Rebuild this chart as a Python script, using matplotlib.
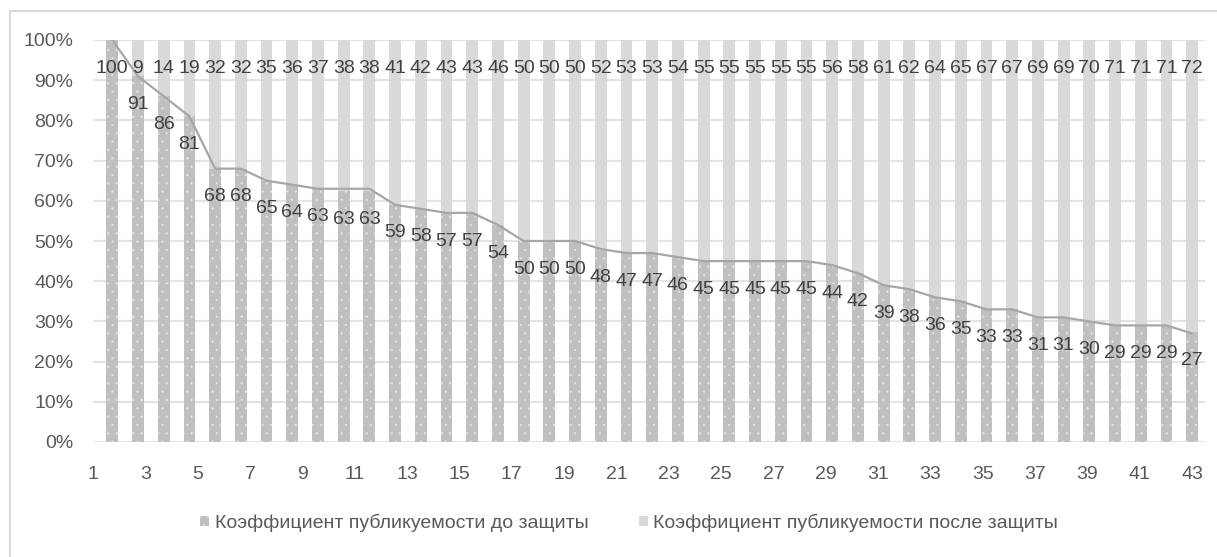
import numpy as np
import matplotlib.pyplot as plt
from matplotlib.patches import Rectangle

# publication ratio (%) per person, before and after the thesis defence
before = [100, 91, 86, 81, 68, 68, 65, 64, 63, 63, 63, 59, 58, 57, 57, 54, 50, 50, 50, 48, 47, 47,
          46, 45, 45, 45, 45, 45, 44, 42, 39, 38, 36, 35, 33, 33, 31, 31, 30, 29, 29, 29, 27]
after = [0, 9, 14, 19, 32, 32, 35, 36, 37, 38, 38, 41, 42, 43, 43, 46, 50, 50, 50, 52, 53, 53,
         54, 55, 55, 55, 55, 55, 56, 58, 61, 62, 64, 65, 67, 67, 69, 69, 70, 71, 71, 71, 72]
categories = [str(i) for i in range(1, 44)]
yticks = [0, 10, 20, 30, 40, 50, 60, 70, 80, 90, 100]

label_before = "Коэффициент публикуемости до защиты"
label_after = "Коэффициент публикуемости после защиты"

plt.rcParams['font.family'] = ['Liberation Sans', 'DejaVu Sans']
plt.rcParams['hatch.linewidth'] = 0.4

fig = plt.figure(figsize=(12.17, 5.57), dpi=100)
ax = fig.add_axes([93 / 1217, 1 - 442 / 557, 1112 / 1217, 402 / 557])

# 100% stacked: each column scaled to its own total
total = np.array(before) + np.array(after)
share_before = np.array(before) / total * 100
share_after = np.array(after) / total * 100

x = np.arange(len(categories))
b1 = ax.bar(x, share_before, width=0.46, color="#bfbfbf", edgecolor="#e4e4e4", linewidth=0,
            hatch="..", label=label_before, zorder=2)
b2 = ax.bar(x, share_after, width=0.46, bottom=share_before, color="#d9d9d9", linewidth=0,
            label=label_after, zorder=2)
ax.plot(x, before, color="#a6a6a6", linewidth=1.6, zorder=3)

# data labels, just inside the top of each segment
for i in range(len(x)):
    ax.text(x[i], share_before[i] - 7, str(before[i]), ha="center", va="center",
            fontsize=14, color="#404040", zorder=4)
    if after[i] > 0:
        ax.text(x[i], 93, str(after[i]), ha="center", va="center",
                fontsize=14, color="#404040", zorder=4)

ax.set_xlim(-0.5, len(x) - 0.5)
ax.set_ylim(0, 100)
ax.set_yticks(yticks)
ax.set_yticklabels([f"{t}%" for t in yticks])
ax.grid(axis="y", color="#e3e3e3", linewidth=1.5, zorder=0)
ax.set_axisbelow(True)

# category labels every second item
ticks = np.linspace(-0.75, 42, 43)[::2]
ax.set_xticks(ticks)
ax.set_xticklabels(categories[::2])

ax.tick_params(axis="both", length=0, labelsize=14, labelcolor="#595959")
ax.tick_params(axis="y", pad=14)
ax.tick_params(axis="x", pad=17)
for s in ax.spines.values():
    s.set_visible(False)

leg = fig.legend(handles=[b1, b2], loc="center", bbox_to_anchor=(0.517, 1 - 523 / 557),
                 ncol=2, frameon=False, handlelength=0.45, handleheight=0.45,
                 handletextpad=0.3, columnspacing=2.6, fontsize=14)
for t in leg.get_texts():
    t.set_color("#595959")

# chart area frame
fig.patches.append(Rectangle((10 / 1217, -0.1), 1.2, 1 - 11 / 557 + 0.1,
                             transform=fig.transFigure, fill=False,
                             edgecolor="#d9d9d9", linewidth=1.5))

fig.savefig("out.png", dpi=100)
